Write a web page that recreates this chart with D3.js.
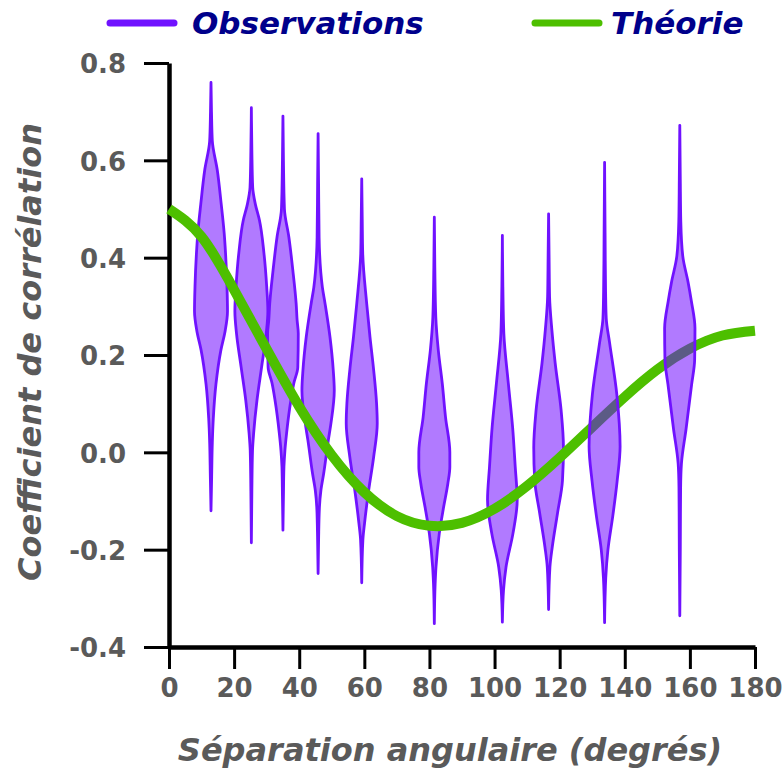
<!DOCTYPE html>
<html>
<head>
<meta charset="utf-8">
<script src="https://cdn.jsdelivr.net/npm/d3@7"></script>
<style>
  body { margin: 0; background: #fff; }
  svg text { font-family: "DejaVu Sans", Verdana, sans-serif; }
</style>
</head>
<body>
<div id="chart"></div>
<script>
// angular separation of each violin (degrees)
const violinAngles = [12.9, 25.3, 35.0, 45.8, 59.2, 81.5, 102.4, 116.6, 133.8, 156.9];

// density profiles: [correlation, relative density]
const violinProfiles = [
    [[0.76, 0], [0.70, 0.03], [0.64, 0.08], [0.58, 0.38], [0.51, 0.62], [0.45, 0.80], [0.41, 0.88], [0.34, 0.97], [0.29, 1.0], [0.25, 0.86], [0.21, 0.6], [0.14, 0.3], [0.07, 0.14], [0.02, 0.08], [-0.05, 0.04], [-0.12, 0]],
    [[0.708, 0], [0.62, 0.03], [0.545, 0.08], [0.51, 0.24], [0.477, 0.49], [0.41, 0.76], [0.34, 0.93], [0.29, 1.0], [0.244, 0.9], [0.175, 0.62], [0.107, 0.34], [0.04, 0.14], [0.004, 0.07], [-0.08, 0.03], [-0.186, 0]],
    [[0.691, 0], [0.60, 0.03], [0.50, 0.09], [0.442, 0.36], [0.374, 0.6], [0.306, 0.8], [0.271, 0.86], [0.244, 0.93], [0.175, 0.9], [0.142, 0.66], [0.107, 0.48], [0.039, 0.22], [0.004, 0.12], [-0.03, 0.06], [-0.09, 0.03], [-0.16, 0]],
    [[0.655, 0], [0.55, 0.03], [0.442, 0.06], [0.339, 0.26], [0.306, 0.42], [0.237, 0.72], [0.168, 0.92], [0.127, 0.98], [0.06, 0.78], [0.025, 0.62], [-0.043, 0.34], [-0.078, 0.17], [-0.113, 0.08], [-0.18, 0.03], [-0.249, 0]],
    [[0.562, 0], [0.48, 0.03], [0.409, 0.06], [0.306, 0.3], [0.237, 0.5], [0.17, 0.72], [0.10, 0.9], [0.06, 0.94], [-0.01, 0.72], [-0.078, 0.42], [-0.146, 0.17], [-0.18, 0.07], [-0.268, 0]],
    [[0.483, 0], [0.38, 0.03], [0.277, 0.09], [0.21, 0.24], [0.142, 0.48], [0.072, 0.68], [0.0, 0.94], [-0.03, 0.94], [-0.064, 0.82], [-0.113, 0.56], [-0.167, 0.3], [-0.236, 0.1], [-0.27, 0.05], [-0.352, 0]],
    [[0.446, 0], [0.34, 0.03], [0.244, 0.09], [0.142, 0.36], [0.052, 0.62], [-0.03, 0.78], [-0.098, 0.9], [-0.167, 0.64], [-0.236, 0.22], [-0.283, 0.07], [-0.349, 0]],
    [[0.49, 0], [0.40, 0.03], [0.319, 0.06], [0.251, 0.2], [0.183, 0.4], [0.086, 0.76], [0.01, 0.9], [-0.058, 0.84], [-0.125, 0.54], [-0.195, 0.22], [-0.236, 0.08], [-0.323, 0]],
    [[0.596, 0], [0.45, 0.03], [0.33, 0.06], [0.275, 0.1], [0.226, 0.3], [0.119, 0.74], [0.012, 0.94], [-0.059, 0.76], [-0.13, 0.5], [-0.201, 0.2], [-0.258, 0.07], [-0.35, 0]],
    [[0.672, 0], [0.56, 0.03], [0.475, 0.06], [0.403, 0.18], [0.35, 0.5], [0.311, 0.7], [0.255, 0.92], [0.19, 0.9], [0.14, 0.72], [0.048, 0.38], [-0.023, 0.1], [-0.073, 0.05], [-0.2, 0.03], [-0.336, 0]]
];

// theory curve
const theoryAngles = [0, 10, 20, 30, 40, 50, 60, 70, 80, 90, 100, 110, 120, 130, 140, 150, 160, 170, 180];
const theoryValues = [0.5, 0.443, 0.334, 0.212, 0.094, -0.006, -0.082, -0.131, -0.151, -0.145, -0.116, -0.069, -0.011, 0.052, 0.114, 0.17, 0.213, 0.24, 0.25];

const xTicks = [0, 20, 40, 60, 80, 100, 120, 140, 160, 180];
const yTicks = [-0.4, -0.2, 0.0, 0.2, 0.4, 0.6, 0.8];

function renderChart() {
    const width = 782;
    const height = 773;
    const purple = "#7012ff";
    const green = "#4dbf00";
    const gray = "#5a5a5a";

    const svg = d3.select("#chart").append("svg")
        .attr("width", width)
        .attr("height", height);

    const x = d3.scaleLinear().domain([0, 180]).range([169, 755]);
    const y = d3.scaleLinear().domain([-0.4, 0.8]).range([647, 63]);
    const w = d3.scaleLinear().domain([0, 1]).range([0, 16.5]);

    // axes
    const xAxis = svg.append("g")
        .attr("transform", `translate(0,${y(-0.4)})`)
        .call(d3.axisBottom(x).tickValues(xTicks).tickSize(22).tickSizeOuter(0).tickPadding(10));
    const yAxis = svg.append("g")
        .attr("transform", `translate(${x(0)},0)`)
        .call(d3.axisLeft(y).tickValues(yTicks).tickSize(25).tickSizeOuter(0).tickPadding(18)
            .tickFormat((d) => d.toFixed(1)));

    [xAxis, yAxis].forEach((g) => {
        g.select(".domain").attr("stroke", "#000").attr("stroke-width", 4.5);
        g.selectAll(".tick line").attr("stroke", "#000").attr("stroke-width", 3);
        g.selectAll(".tick text")
            .attr("fill", gray)
            .style("font-size", "26px")
            .style("font-weight", "bold");
    });
    yAxis.selectAll(".tick text").attr("dy", "0.38em");

    const violinArea = (i) => d3.area()
        .y((d) => y(d[0]))
        .x0((d) => x(violinAngles[i]) - w(d[1]))
        .x1((d) => x(violinAngles[i]) + w(d[1]))
        .curve(d3.curveMonotoneY);

    const drawViolin = (g, i) => {
        g.append("path")
            .attr("d", violinArea(i)(violinProfiles[i]))
            .attr("fill", "#6a00ff")
            .attr("fill-opacity", 0.52)
            .attr("stroke", purple)
            .attr("stroke-width", 2.8)
            .attr("stroke-linejoin", "round");
    };

    const plot = svg.append("g");
    violinAngles.slice(0, 8).forEach((_, i) => drawViolin(plot, i));

    const line = d3.line()
        .x((d, i) => x(theoryAngles[i]))
        .y((d) => y(d))
        .curve(d3.curveNatural);

    plot.append("path")
        .attr("d", line(theoryValues))
        .attr("fill", "none")
        .attr("stroke", green)
        .attr("stroke-width", 10);

    violinAngles.slice(8).forEach((_, i) => drawViolin(plot, i + 8));

    // axis titles
    svg.append("text")
        .attr("x", 450)
        .attr("y", 761)
        .attr("text-anchor", "middle")
        .attr("fill", gray)
        .style("font-size", "32px")
        .style("font-weight", "bold")
        .style("font-style", "italic")
        .text("Séparation angulaire (degrés)");

    svg.append("text")
        .attr("transform", "translate(41,352) rotate(-90)")
        .attr("text-anchor", "middle")
        .attr("fill", gray)
        .style("font-size", "32px")
        .style("font-weight", "bold")
        .style("font-style", "italic")
        .text("Coefficient de corrélation");

    // legend
    const legend = [
        { label: "Observations", color: purple, x: 110, tx: 192 },
        { label: "Théorie", color: green, x: 535, tx: 611 }
    ];
    const lg = svg.append("g").selectAll("g").data(legend).join("g");
    lg.append("line")
        .attr("x1", (d) => d.x)
        .attr("x2", (d) => d.x + 64)
        .attr("y1", 23)
        .attr("y2", 23)
        .attr("stroke", (d) => d.color)
        .attr("stroke-width", 7)
        .attr("stroke-linecap", "round");
    lg.append("text")
        .attr("x", (d) => d.tx)
        .attr("y", 34)
        .attr("fill", "#00008b")
        .style("font-size", "31px")
        .style("font-weight", "bold")
        .style("font-style", "italic")
        .text((d) => d.label);
}

renderChart();
</script>
</body>
</html>
